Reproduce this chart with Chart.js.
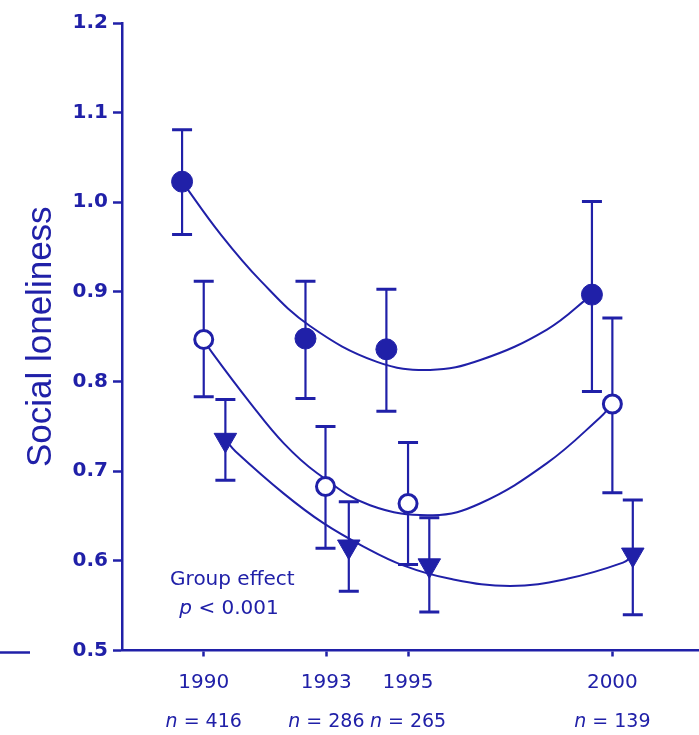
<!DOCTYPE html>
<html>
<head>
<meta charset="utf-8">
<script src="https://cdn.jsdelivr.net/npm/chart.js@4.4.1/dist/chart.umd.min.js"></script>
<style>
  body { margin: 0; background: #fff; }
  canvas { display: block; }
</style>
</head>
<body>
<canvas id="myChart" width="699" height="735"></canvas>
<script>
const years = [1990, 1993, 1995, 2000];
const nCounts = ['416', '286', '265', '139'];
const yTicks = [0.5, 0.6, 0.7, 0.8, 0.9, 1.0, 1.1, 1.2];

// filled circles
const filledX = [1989.47, 1992.49, 1994.47, 1999.50];
const filledY = [1.023, 0.848, 0.836, 0.897];
const filledHi = [1.081, 0.912, 0.903, 1.001];
const filledLo = [0.964, 0.781, 0.767, 0.789];

// open circles
const openX = [1990.0, 1992.98, 1995.0, 2000.0];
const openY = [0.847, 0.683, 0.664, 0.775];
const openHi = [0.912, 0.750, 0.732, 0.871];
const openLo = [0.783, 0.614, 0.596, 0.676];

// triangles
const triX = [1990.53, 1993.55, 1995.52, 2000.5];
const triY = [0.735, 0.616, 0.595, 0.607];
const triHi = [0.780, 0.666, 0.648, 0.668];
const triLo = [0.690, 0.566, 0.543, 0.540];

// fitted curves
const curveAX = [1989.47, 1990.40, 1991.40, 1992.60, 1994.24, 1995.54, 1996.77, 1998.40, 1999.50];
const curveAY = [1.023, 0.965, 0.912, 0.862, 0.822, 0.813, 0.824, 0.858, 0.897];
const curveBX = [1990.0, 1990.21, 1991.14, 1991.96, 1992.77, 1994.07, 1995.61, 1996.76, 1998.40, 1999.70, 2000.0];
const curveBY = [0.847, 0.832, 0.776, 0.731, 0.698, 0.662, 0.651, 0.664, 0.709, 0.760, 0.775];
const curveCX = [1990.53, 1990.78, 1991.96, 1992.93, 1993.91, 1994.88, 1996.03, 1997.50, 1998.89, 2000.26, 2000.5];
const curveCY = [0.735, 0.722, 0.675, 0.642, 0.616, 0.595, 0.580, 0.572, 0.580, 0.598, 0.606];

const blue = '#2020a8';
const font = 'DejaVu Sans';

const pts = (xs, ys) => xs.map((x, i) => ({ x: x, y: ys[i] }));

const errorSets = [
  { xs: filledX, hi: filledHi, lo: filledLo },
  { xs: openX, hi: openHi, lo: openLo },
  { xs: triX, hi: triHi, lo: triLo }
];

const errorBars = {
  id: 'errorBars',
  beforeDatasetsDraw: (chart) => {
    const ctx = chart.ctx;
    const xs = chart.scales.x;
    const ys = chart.scales.y;
    ctx.save();
    ctx.strokeStyle = blue;
    errorSets.forEach((set) => {
      set.xs.forEach((xv, i) => {
        const px = xs.getPixelForValue(xv);
        const top = ys.getPixelForValue(set.hi[i]);
        const bot = ys.getPixelForValue(set.lo[i]);
        ctx.lineWidth = 2.2;
        ctx.beginPath();
        ctx.moveTo(px, top);
        ctx.lineTo(px, bot);
        ctx.stroke();
        ctx.lineWidth = 3;
        ctx.beginPath();
        ctx.moveTo(px - 10, top);
        ctx.lineTo(px + 10, top);
        ctx.moveTo(px - 10, bot);
        ctx.lineTo(px + 10, bot);
        ctx.stroke();
      });
    });
    ctx.restore();
  }
};

// draws "italic + rest" centred at x
const mixedText = (ctx, italicPart, rest, cx, cy, size) => {
  ctx.font = 'italic ' + size + 'px "' + font + '"';
  const w1 = ctx.measureText(italicPart).width;
  ctx.font = size + 'px "' + font + '"';
  const w2 = ctx.measureText(rest).width;
  let x = cx - (w1 + w2) / 2;
  ctx.font = 'italic ' + size + 'px "' + font + '"';
  ctx.fillText(italicPart, x, cy);
  ctx.font = size + 'px "' + font + '"';
  ctx.fillText(rest, x + w1, cy);
};

const labels = {
  id: 'labels',
  afterDraw: (chart) => {
    const ctx = chart.ctx;
    const xs = chart.scales.x;
    const ys = chart.scales.y;
    const area = chart.chartArea;
    ctx.save();
    ctx.fillStyle = blue;
    ctx.textBaseline = 'middle';
    ctx.textAlign = 'left';
    years.forEach((yr, i) => {
      mixedText(ctx, 'n', ' = ' + nCounts[i], xs.getPixelForValue(yr), area.bottom + 72, 19);
    });
    ctx.font = '20px "' + font + '"';
    ctx.textAlign = 'center';
    ctx.fillText('Group effect', xs.getPixelForValue(1990.70), ys.getPixelForValue(0.579));
    ctx.textAlign = 'left';
    mixedText(ctx, 'p', ' < 0.001', xs.getPixelForValue(1990.62), ys.getPixelForValue(0.546), 20);
    // piece of the neighbouring panel's axis
    ctx.strokeStyle = blue;
    ctx.lineWidth = 2.5;
    ctx.beginPath();
    ctx.moveTo(0, area.bottom + 2);
    ctx.lineTo(30, area.bottom + 2);
    ctx.stroke();
    ctx.restore();
  }
};

const context = document.getElementById('myChart').getContext('2d');
const myChart = new Chart(context, {
  type: 'scatter',
  data: {
    datasets: [{
      data: pts(filledX, filledY),
      pointStyle: 'circle',
      pointRadius: 10.5,
      pointBackgroundColor: blue,
      pointBorderColor: blue,
      pointBorderWidth: 1,
      order: 0
    }, {
      data: pts(openX, openY),
      pointStyle: 'circle',
      pointRadius: 9,
      pointBackgroundColor: '#fff',
      pointBorderColor: blue,
      pointBorderWidth: 3,
      order: 0
    }, {
      data: pts(triX, triY),
      pointStyle: 'triangle',
      rotation: 180,
      pointRadius: 13,
      pointBackgroundColor: blue,
      pointBorderColor: blue,
      pointBorderWidth: 1,
      order: 0
    }, {
      type: 'line',
      data: pts(curveAX, curveAY),
      borderColor: blue,
      borderWidth: 2,
      pointRadius: 0,
      tension: 0.4,
      fill: false,
      order: 1
    }, {
      type: 'line',
      data: pts(curveBX, curveBY),
      borderColor: blue,
      borderWidth: 2,
      pointRadius: 0,
      tension: 0.4,
      fill: false,
      order: 1
    }, {
      type: 'line',
      data: pts(curveCX, curveCY),
      borderColor: blue,
      borderWidth: 2,
      pointRadius: 0,
      tension: 0.4,
      fill: false,
      order: 1
    }]
  },
  options: {
    responsive: false,
    animation: false,
    layout: { autoPadding: false, padding: { top: 23, right: 0, bottom: 0, left: 0 } },
    plugins: {
      legend: { display: false },
      tooltip: { enabled: false }
    },
    scales: {
      x: {
        type: 'linear',
        min: 1988,
        max: 2002.12,
        afterBuildTicks: (scale) => { scale.ticks = years.map((v) => ({ value: v })); },
        afterFit: (scale) => { scale.height = 84.5; },
        border: { color: blue, width: 2.5 },
        grid: { drawOnChartArea: false, color: blue, tickLength: 6, tickWidth: 2.5 },
        ticks: {
          color: blue,
          padding: 14,
          maxRotation: 0,
          font: { family: font, size: 20 },
          callback: (v) => String(v)
        }
      },
      y: {
        min: 0.5,
        max: 1.2,
        afterBuildTicks: (scale) => { scale.ticks = yTicks.map((v) => ({ value: v })); },
        afterFit: (scale) => { scale.width = 122; },
        border: { color: blue, width: 2.5 },
        grid: { drawOnChartArea: false, color: blue, tickLength: 9, tickWidth: 2.5 },
        ticks: {
          color: blue,
          padding: 5,
          font: { family: font, size: 20, weight: 'bold' },
          callback: (v) => v.toFixed(1)
        },
        title: {
          display: true,
          text: 'Social loneliness',
          color: blue,
          padding: { top: 20, bottom: 0 },
          font: { family: 'Liberation Sans', size: 35 }
        }
      }
    }
  },
  plugins: [errorBars, labels]
});
</script>
</body>
</html>
